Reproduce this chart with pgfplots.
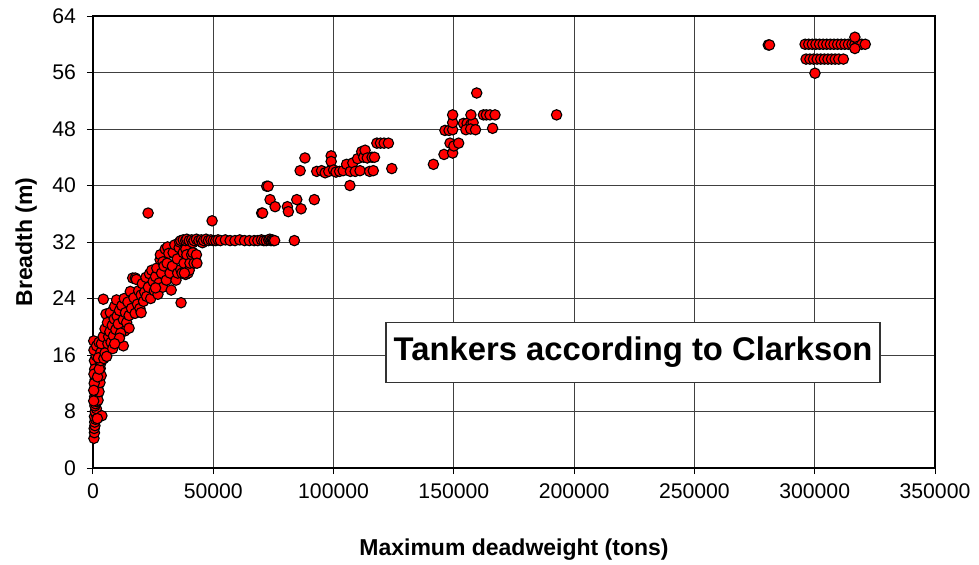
\documentclass[border=0pt]{standalone}
\usepackage{pgfplots}
\pgfplotsset{compat=1.18}
\usepackage{fontspec}
\setmainfont{Liberation Sans}

% Clarkson tanker data: deadweight (t) vs breadth (m)
\pgfplotstableread{
x y
400 4.2
600 5.0
500 5.6
800 6.0
700 6.5
1000 6.9
600 7.3
1200 7.7
900 8.0
1400 8.4
800 8.8
1100 9.1
1600 9.4
1300 9.8
700 10.1
1800 10.3
1000 10.6
1500 11.0
2000 11.3
1200 11.6
2200 11.9
1700 12.2
900 12.5
2400 12.7
1400 13.0
2700 13.3
2000 13.6
1100 13.9
3000 14.1
2300 14.4
1600 14.7
3300 14.9
600 15.2
2700 15.3
3600 15.6
1300 15.9
2000 16.2
4000 16.4
400 16.7
3000 16.9
300 18.0
1500 17.3
2500 17.8
3700 7.4
1800 7.0
2100 9.6
2500 10.8
2900 12.1
3400 13.1
500 12.0
700 14.0
300 9.5
300 11.0
400 13.3
1900 12.9
2600 14.0
3200 15.2
3900 16.0
4600 17.2
5200 18.2
4800 16.9
3300 16.4
2200 15.6
5500 17.0
6300 19.8
6800 21.0
7600 20.8
8400 22.4
9300 21.8
10200 22.8
11200 20.9
12300 22.2
13200 19.4
14200 21.8
3500 17.6
4200 18.6
4300 23.9
4500 15.5
5000 19.7
5000 16.3
5400 21.8
5700 15.8
6000 20.6
6200 17.6
6500 18.6
7000 19.3
7200 22.0
7500 17.8
8000 20.2
8200 16.9
8500 18.7
8800 21.1
9000 22.9
9500 19.6
9800 23.8
10000 21.5
10500 20.4
11000 22.3
11500 19.1
12000 23.0
12600 17.3
12600 21.0
13000 24.0
13500 22.0
14000 20.6
14500 23.5
15000 21.6
15500 25.0
16000 22.6
16500 26.9
17000 24.1
17500 21.9
17600 26.9
18000 26.7
18500 23.2
19000 25.1
19500 22.6
20000 24.5
20500 26.1
21000 23.6
21500 24.9
22000 27.0
22300 24.3
23000 25.6
23500 27.5
24000 24.0
24400 28.0
25000 26.4
25500 25.1
26000 27.1
26500 28.3
27000 24.6
27500 26.2
27900 29.5
28000 30.2
28500 27.6
29000 25.6
29100 29.2
29500 28.6
30000 31.0
30500 26.6
30800 29.0
31000 31.3
31500 30.4
32000 27.6
32500 25.2
33000 28.6
33300 30.5
34000 31.6
34500 26.6
35000 29.6
35200 27.6
35800 31.2
36000 32.0
36500 28.1
36600 23.4
37000 27.6
37500 30.5
37800 29.0
38500 27.4
38600 31.0
39000 30.2
39500 27.6
40000 28.0
40300 29.0
41000 30.2
41500 30.5
42000 29.0
43000 30.2
43200 29.0
38000 27.6
26000 25.5
20000 22.0
15000 19.8
11000 18.4
9000 17.6
36500 32.2
37500 32.3
38500 32.2
39000 32.4
40000 32.2
41000 32.3
41500 31.9
42000 32.2
43000 32.4
44000 32.2
45000 32.3
45500 31.9
46000 32.2
47000 32.4
48000 32.2
49000 32.3
50000 32.2
51000 32.2
52000 32.3
53000 32.2
55000 32.3
57000 32.2
59000 32.2
61000 32.3
63000 32.2
65000 32.2
67000 32.2
68500 32.2
70000 32.3
71000 32.2
72000 32.2
73000 32.3
73500 32.4
74000 32.2
74500 32.3
75000 32.2
75500 32.2
83700 32.2
49500 35.0
22900 36.1
70100 36.1
70500 36.1
72200 39.9
72800 39.9
73600 38.0
75700 37.0
80800 37.0
81200 36.3
84700 38.0
86500 36.7
92000 38.0
86100 42.1
88100 43.9
93000 42.0
95000 42.1
96500 41.8
98000 42.0
99000 44.2
99000 43.4
100000 42.2
101000 41.9
102500 42.0
104000 42.1
105400 43.0
106800 40.0
107000 42.0
108000 43.2
109000 42.0
110000 43.8
111000 42.1
111700 44.8
112500 44.0
113100 45.0
114000 43.9
115000 42.0
116000 44.0
116500 42.1
117000 44.0
118000 46.0
119500 46.0
121000 46.0
122800 46.0
124200 42.4
141500 43.0
145900 44.4
149500 44.6
148400 46.0
150000 45.6
152000 46.0
146300 47.8
148000 47.8
149500 47.9
149500 48.9
149500 50.0
154000 48.8
155500 48.8
157000 48.6
158000 48.9
155000 47.9
157000 48.0
159000 47.9
157100 50.0
159500 53.1
162300 50.0
163500 50.0
165000 50.0
167100 50.0
166100 48.1
192700 50.0
280700 59.9
281200 59.9
296000 60.0
297500 60.0
299000 60.0
300500 60.0
302000 60.0
303500 60.0
305000 60.0
306500 60.0
308000 60.0
309500 60.0
311000 60.0
312500 60.0
314000 60.0
315500 60.0
316700 60.0
318000 60.0
319500 60.0
321000 60.0
316700 61.0
316700 59.4
296400 57.9
298000 57.9
299500 57.9
301000 57.9
302500 57.9
304000 57.9
305500 57.9
307000 57.9
308500 57.9
310000 57.9
311900 57.9
300100 55.9
}\tankers

\begin{document}
\begin{tikzpicture}
\begin{axis}[
    scale only axis,
    width=421pt, height=226pt,
    xmin=0, xmax=350000,
    ymin=0, ymax=64,
    xtick={0,50000,...,350000},
    ytick={0,8,...,64},
    scaled x ticks=false,
    scaled y ticks=false,
    /pgf/number format/fixed,
    /pgf/number format/precision=0,
    /pgf/number format/1000 sep={},
    /pgf/number format/assume math mode=true,
    ticklabel style={font=\fontsize{10.6}{12}\selectfont},
    xticklabel style={yshift=-1.5pt},
    yticklabel style={xshift=-2pt},
    grid=major,
    major grid style={black!75, line width=0.5pt},
    axis line style={black, line width=0.6pt},
    tick align=outside, tick pos=left,
    major tick length=3pt,
    tick style={black, line width=0.5pt},
    xlabel={Maximum deadweight (tons)},
    ylabel={Breadth (m)},
    label style={font=\bfseries\fontsize{11.5}{14}\selectfont},
    xlabel style={at={(axis description cs:0.5,-0.18)}, anchor=center},
    ylabel style={at={(axis description cs:-0.0795,0.5)}, anchor=center},
]
\coordinate (o) at (rel axis cs:0,0);
\addplot[only marks, mark=*, mark size=2.6pt,
    mark options={fill=red, draw=black, line width=0.55pt}] table {\tankers};
\node[draw=black!80, fill=white, line width=0.6pt, minimum width=247pt,
    minimum height=30pt, inner sep=0pt,
    font=\bfseries\fontsize{16.4}{19}\selectfont]
    at (axis cs:224500,16.4) {Tankers according to Clarkson};
\end{axis}
\pgfresetboundingbox
\path (o) ++(-46.5pt,-48pt) rectangle ++(489.5pt,282pt);
\end{tikzpicture}
\end{document}
